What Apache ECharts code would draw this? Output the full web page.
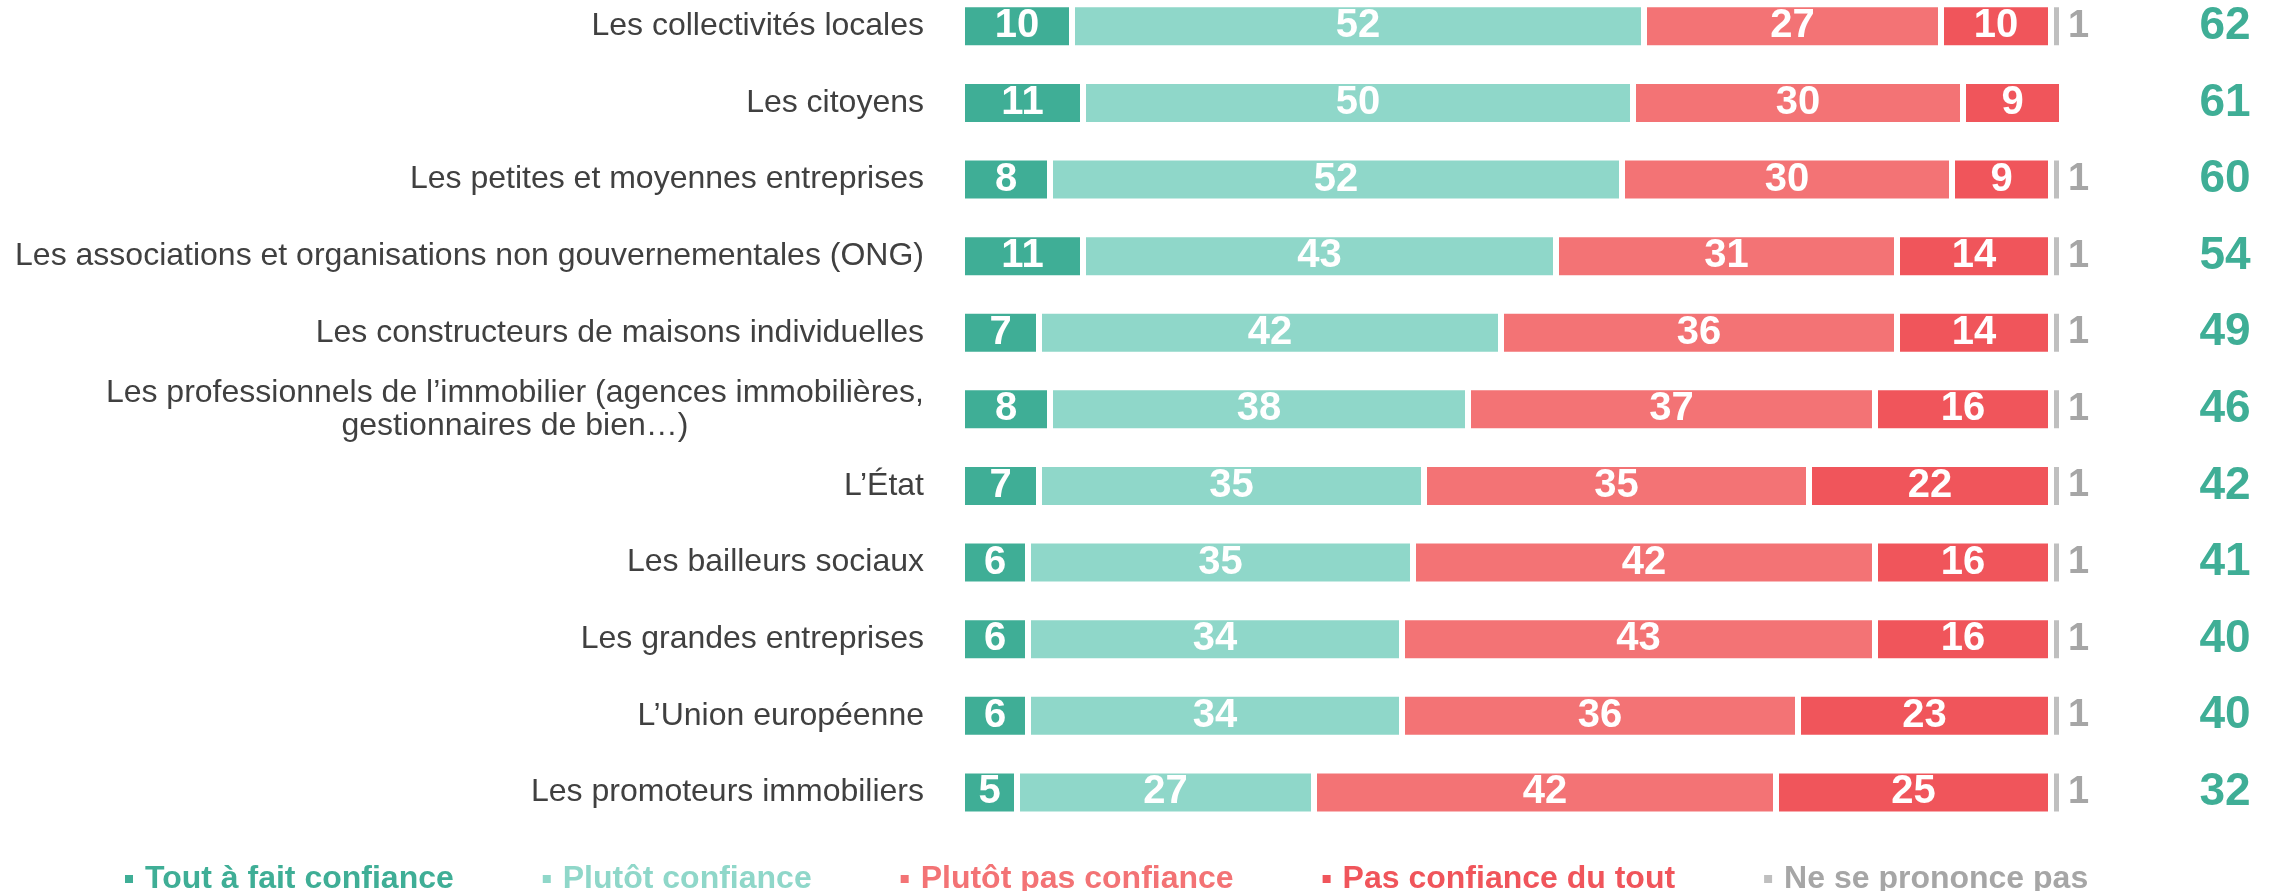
<!DOCTYPE html>
<html><head><meta charset="utf-8">
<script src="https://cdn.jsdelivr.net/npm/echarts@6/dist/echarts.min.js"></script>
<style>html,body{margin:0;padding:0;background:#fff;overflow:hidden}#c{position:absolute;left:0;top:-12px;width:2274px;height:903px}</style>
</head><body><div id="c"></div>
<script>
const categories = [
  'Les collectivités locales',
  'Les citoyens',
  'Les petites et moyennes entreprises',
  'Les associations et organisations non gouvernementales (ONG)',
  'Les constructeurs de maisons individuelles',
  'Les professionnels de l’immobilier (agences immobilières,\ngestionnaires de bien…)',
  'L’État',
  'Les bailleurs sociaux',
  'Les grandes entreprises',
  'L’Union européenne',
  'Les promoteurs immobiliers'
];
const toutAFait       = [10, 11, 8, 11, 7, 8, 7, 6, 6, 6, 5];
const plutotConfiance = [52, 50, 52, 43, 42, 38, 35, 35, 34, 34, 27];
const plutotPas       = [27, 30, 30, 31, 36, 37, 35, 42, 43, 36, 42];
const pasDuTout       = [10, 9, 9, 14, 14, 16, 22, 16, 16, 23, 25];
const nspp            = [1, null, 1, 1, 1, 1, 1, 1, 1, 1, 1];
const totals          = [62, 61, 60, 54, 49, 46, 42, 41, 40, 40, 32];
const seriesNames = ['Tout à fait confiance', 'Plutôt confiance', 'Plutôt pas confiance', 'Pas confiance du tout', 'Ne se prononce pas'];

const FONT = 'Arial, "Liberation Sans", sans-serif';
const colors = ['#3FAE96', '#8FD7C9', '#F37375', '#F0555B', '#BFBFBF'];
const textColors = ['#3FAE96', '#8FD7C9', '#F37375', '#F0555B', '#A6A6A6'];
const values = [toutAFait, plutotConfiance, plutotPas, pasDuTout, nspp];

const chart = echarts.init(document.getElementById('c'), null, {renderer: 'canvas'});

const series = values.map((arr, i) => ({
  name: seriesNames[i],
  type: 'bar',
  stack: 'total',
  barWidth: 44,
  data: arr,
  itemStyle: {color: colors[i], borderColor: '#ffffff', borderWidth: 3},
  label: i < 4 ? {
    show: true, position: 'inside', color: '#ffffff', fontWeight: 'bold',
    fontSize: 40, fontFamily: FONT
  } : {
    show: true, position: 'right', distance: 6, color: '#A6A6A6', fontWeight: 'bold',
    fontSize: 38, fontFamily: FONT
  },
  emphasis: {disabled: true},
  animation: false
}));

chart.setOption({
  animation: false,
  grid: {left: 962, right: 212, top: 0, bottom: 60.3, containLabel: false},
  legend: {
    left: 118, top: 870, itemWidth: 10, itemHeight: 10, itemGap: 87, icon: 'rect',
    selectedMode: false,
    textStyle: {fontSize: 32, fontWeight: 'bold', fontFamily: FONT, padding: [0, 0, 0, 6]},
    data: seriesNames.map((n, i) => ({name: n, textStyle: {color: textColors[i]}}))
  },
  xAxis: {type: 'value', min: 0, max: 100, show: false},
  yAxis: [{
    type: 'category', data: categories, inverse: true,
    axisLine: {show: false}, axisTick: {show: false},
    axisLabel: {
      margin: 38, align: 'right',
      formatter: v => v.split('\n').map(l => '{c|' + l + '}').join('\n'),
      rich: {c: {fontSize: 32, color: '#404040', fontFamily: FONT, align: 'center', lineHeight: 33}}
    }
  }, {
    type: 'category', data: totals.map(String), inverse: true, position: 'right',
    axisLine: {show: false}, axisTick: {show: false},
    axisLabel: {
      margin: 163, align: 'center', color: '#3FAE96', fontWeight: 'bold',
      fontSize: 46, fontFamily: FONT
    }
  }],
  series: series
});
</script></body></html>
